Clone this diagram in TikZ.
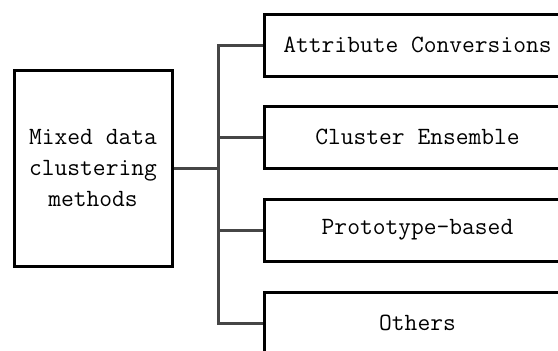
\documentclass[tikz,border=0pt]{standalone}
\usepackage{fontspec}
\begin{document}
\begin{tikzpicture}[x=1pt,y=-1pt,
  box/.style={draw=black,line width=3pt,fill=white,inner sep=0pt,align=center,font=\ttfamily\fontsize{24.8pt}{31pt}\selectfont},
  conn/.style={draw={rgb,255:red,70;green,70;blue,70},line width=3pt}]
\useasboundingbox (0,0) rectangle (558,351);
\clip (0,0) rectangle (558,351);
\node[box,minimum width=158pt,minimum height=196pt] (L) at (93,168) {Mixed data\\clustering\\methods};
\node[box,minimum width=306pt,minimum height=62pt,anchor=west] (b1) at (263,45) {Attribute Conversions};
\node[box,minimum width=306pt,minimum height=62pt,anchor=west] (b2) at (263,137) {Cluster Ensemble};
\node[box,minimum width=306pt,minimum height=62pt,anchor=west] (b3) at (263,230) {Prototype-based};
\node[box,minimum width=306pt,minimum height=62pt,anchor=west] (b4) at (263,323) {Others};
\coordinate (trunk) at (218,168);
\draw[conn] (L.east) -- (trunk);
\draw[conn] (b1.west) -- (b1.west -| trunk) -- (b4.west -| trunk) -- (b4.west);
\draw[conn] (b2.west) -- (b2.west -| trunk);
\draw[conn] (b3.west) -- (b3.west -| trunk);
\end{tikzpicture}
\end{document}
